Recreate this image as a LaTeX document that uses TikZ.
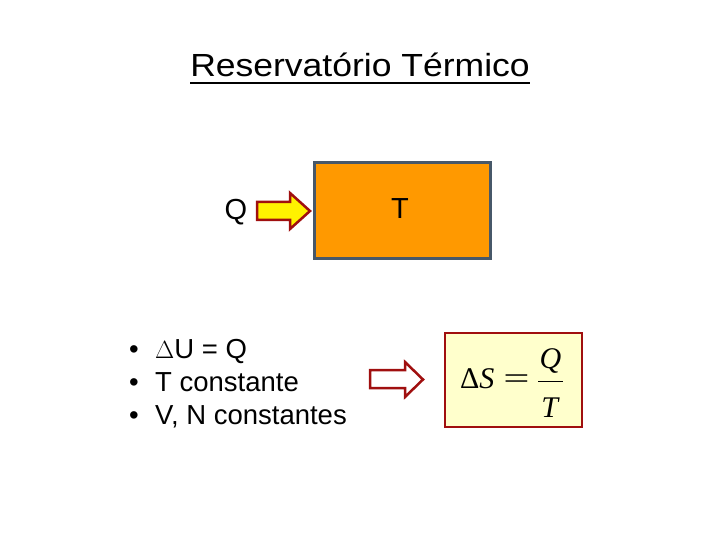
\documentclass[tikz,border=0pt]{standalone}
\usepackage{fontspec}
\setmainfont{Liberation Sans}
\newfontfamily\serifmath{Liberation Serif}
\usetikzlibrary{positioning}

\definecolor{reservoirorange}{HTML}{FF9900}
\definecolor{slateedge}{HTML}{475869}
\definecolor{arrowred}{HTML}{A00F0F}
\definecolor{paleyellow}{HTML}{FFFFCC}

\tikzset{
  blockarrow/.style={draw=arrowred, line width=2.5pt, line join=miter},
  reservoir/.style={draw=slateedge, fill=reservoirorange, line width=3pt,
    minimum width=176pt, minimum height=96pt, inner sep=0pt},
  resultbox/.style={draw=arrowred, fill=paleyellow, line width=2.5pt,
    minimum width=137pt, minimum height=94pt, inner sep=0pt},
  bigtext/.style={font=\fontsize{29}{34}\selectfont, inner sep=0pt},
  itemtext/.style={font=\fontsize{27.5}{32}\selectfont, anchor=base west, inner sep=0pt},
  formula/.style={font=\serifmath\fontsize{30}{36}\selectfont, inner sep=0pt},
}

\begin{document}
\begin{tikzpicture}[x=1pt, y=-1pt]
  \useasboundingbox (0,0) rectangle (720,540);

  % Title
  \node[font=\fontsize{32}{38}\selectfont, xscale=1.11, anchor=base, inner sep=0pt] (title) at (360,77) {Reservatório Térmico};
  \draw[line width=2pt] ([yshift=-6pt]title.base west) -- ([yshift=-6pt]title.base east);

  % Reservoir at temperature T
  \node[reservoir] (reservoir) at (402,210.5) {};
  \node[bigtext] (temp) at (400,209) {T};

  % Heat Q flowing in
  \node[bigtext] (heat) at (236,212) {Q};
  \draw[blockarrow, fill=yellow] (257,202) -- (290,202) -- (290,193) -- (310,211)
    -- (290,229) -- (290,220) -- (257,220) -- cycle;

  % Conditions
  \foreach \txt [count=\i] in {{$\Delta$U = Q}, {T constante}, {V, N constantes}} {
    \node[itemtext] (item\i) at (155,{325+33*\i}) {\txt};
    \node[itemtext, anchor=base east] (dot\i) at ([xshift=-16pt]item\i.base west) {\textbullet};
  }

  % Implication
  \draw[blockarrow, fill=white] (370,370) -- (405,370) -- (405,362) -- (423,379.5)
    -- (405,397) -- (405,388) -- (370,388) -- cycle;

  % Entropy change
  \node[resultbox] (entropy) at (513.5,380) {};
  \node[formula, anchor=base west] (lhs) at (460,388) {Δ\textit{S}};
  \node[formula, xscale=1.55, anchor=base] (eq) at (516.5,388) {=};
  \node[formula, anchor=base] (num) at (550.5,368) {\textit{Q}};
  \node[formula, anchor=base] (den) at (550.5,417) {\textit{T}};
  \draw[line width=1pt] (538,381.5) -- (563,381.5);
\end{tikzpicture}
\end{document}
